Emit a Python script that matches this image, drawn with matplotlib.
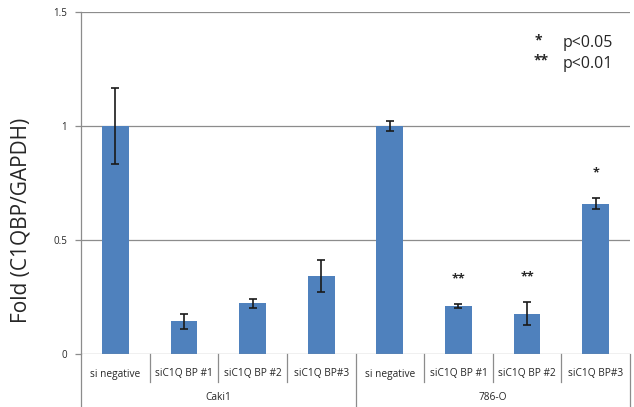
import matplotlib
matplotlib.use("Agg")
import matplotlib.pyplot as plt
import matplotlib.transforms as mtransforms
import numpy as np

plt.rcParams['font.family'] = ['Open Sans', 'DejaVu Sans']

groups = ["Caki1", "786-O"]
categories = ["si negative", "siC1Q BP #1", "siC1Q BP #2", "siC1Q BP#3",
              "si negative", "siC1Q BP #1", "siC1Q BP #2", "siC1Q BP#3"]
fold = [1.0, 0.143, 0.222, 0.342, 1.0, 0.21, 0.177, 0.66]
err = [0.165, 0.033, 0.02, 0.07, 0.02, 0.01, 0.05, 0.026]
marks = ["", "", "", "", "", "**", "**", "*"]
yticks = [0, 0.5, 1, 1.5]
ytick_labels = ["0", "0.5", "1", "1.5"]

bar_color = "#4F81BD"
grid_color = "#8C8C8C"
text_color = "#262626"

fig = plt.figure(figsize=(6.34, 4.07), dpi=100)
ax = fig.add_axes([81 / 634, 53 / 407, 549 / 634, 342 / 407])

x = np.arange(len(categories))
ax.bar(x, fold, width=0.39, color=bar_color, zorder=3)
ax.errorbar(x, fold, yerr=err, fmt="none", ecolor="#1a1a1a", elinewidth=1.2,
            capsize=3, capthick=1.2, zorder=4)

for xi, v, e, m in zip(x, fold, err, marks):
    if m:
        ax.text(xi, v + e + 0.11, m, ha="center", va="center", fontsize=9,
                color=text_color, fontweight="bold")

ax.set_xlim(-0.5, len(categories) - 0.5)
ax.set_ylim(0, 1.5)
ax.set_yticks(yticks)
ax.set_yticklabels(ytick_labels, fontsize=7, color=text_color)
ax.tick_params(axis="y", length=4, width=0.9, color=grid_color, pad=6)
ax.set_xticks([])

for y in yticks[1:]:
    ax.axhline(y, color=grid_color, lw=0.9, zorder=1)

for s in ["top", "right", "bottom"]:
    ax.spines[s].set_visible(False)
ax.spines["left"].set_color(grid_color)
ax.spines["left"].set_linewidth(0.9)
ax.axhline(0, color=grid_color, lw=0.9, zorder=5)

trans = mtransforms.blended_transform_factory(ax.transData, ax.transAxes)
inner_bottom = -28 / 342
outer_bottom = -53 / 342
n = len(categories)
per_group = n // len(groups)
for b in range(1, n + 1):
    xb = b - 0.5
    bottom = outer_bottom if b % per_group == 0 else inner_bottom
    ax.plot([xb, xb], [0, bottom], transform=trans, color=grid_color,
            lw=0.9, clip_on=False)
ax.plot([-0.5, -0.5], [0, outer_bottom], transform=trans, color=grid_color,
        lw=0.9, clip_on=False)

for xi, c in zip(x, categories):
    ax.text(xi, -20 / 342, c, transform=trans, ha="center", va="center",
            fontsize=7.3, color=text_color)
for gi, g in enumerate(groups):
    center = gi * per_group + (per_group - 1) / 2
    ax.text(center, -44 / 342, g, transform=trans, ha="center", va="center",
            fontsize=7.3, color=text_color)

ax.set_ylabel("Fold (C1QBP/GAPDH)", fontsize=15, color=text_color)
ax.yaxis.set_label_coords(-49 / 549, 0.39)

fig.text(538 / 634, 1 - 40 / 407, "*", ha="center", va="center", fontsize=10,
         fontweight="bold", color=text_color)
fig.text(563 / 634, 1 - 43 / 407, "p<0.05", ha="left", va="center",
         fontsize=11.5, color=text_color)
fig.text(541 / 634, 1 - 60 / 407, "**", ha="center", va="center", fontsize=10,
         fontweight="bold", color=text_color)
fig.text(563 / 634, 1 - 64 / 407, "p<0.01", ha="left", va="center",
         fontsize=11.5, color=text_color)

fig.savefig("out.png", dpi=100)
